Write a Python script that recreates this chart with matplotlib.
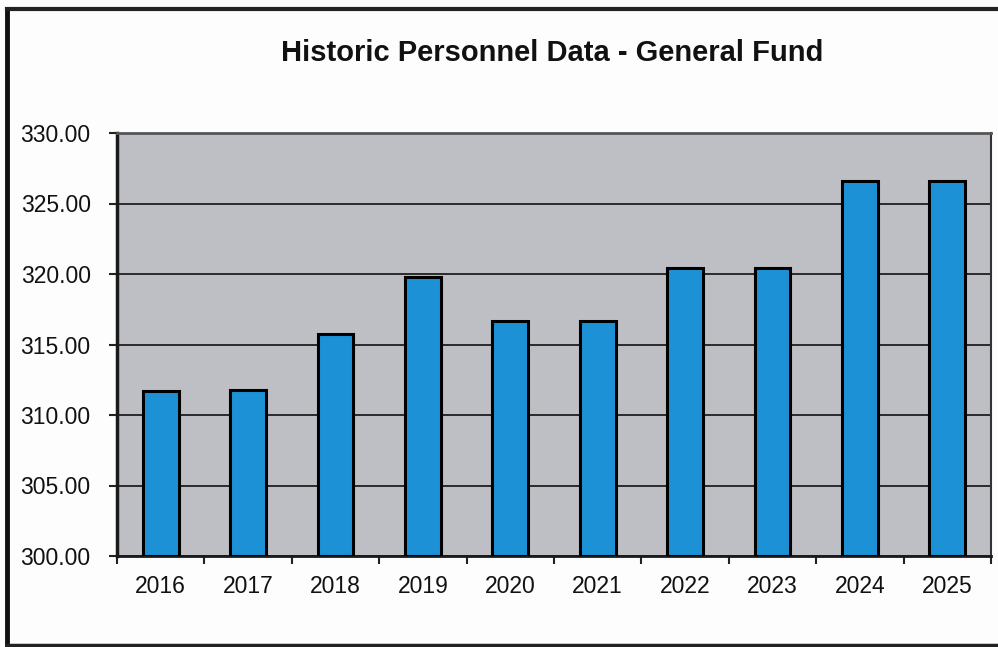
import matplotlib
matplotlib.use("Agg")
import matplotlib.pyplot as plt
from matplotlib.lines import Line2D
import numpy as np

years = ["2016", "2017", "2018", "2019", "2020", "2021", "2022", "2023", "2024", "2025"]
positions = [311.70, 311.77, 315.74, 319.81, 316.67, 316.67, 320.45, 320.45, 326.60, 326.60]
y_ticks = [300, 305, 310, 315, 320, 325, 330]
title = "Historic Personnel Data - General Fund"

plt.rcParams['font.family'] = ['Liberation Sans', 'DejaVu Sans']

fig = plt.figure(figsize=(9.98, 6.47), dpi=100, facecolor="#fdfdfd")
ax = fig.add_axes([117/998, 1 - 556/647, (991-117)/998, (556-133)/647])
ax.set_facecolor("#bebfc4")

x = np.arange(len(years))
ax.bar(x, [v - 300 for v in positions], bottom=300, width=0.41,
       color="#1d91d5", edgecolor="black", linewidth=2.2, zorder=3)

ax.set_xlim(-0.5, len(years) - 0.5)
ax.set_ylim(300, 330)
ax.set_yticks(y_ticks)
ax.set_yticklabels([f"{t:.2f}" for t in y_ticks], fontsize=16.5, color="#111111")
ax.set_xticks(x)
ax.set_xticklabels(years, fontsize=16.5, color="#111111")
ax.set_xticks(np.arange(-0.5, len(years), 1.0), minor=True)

ax.tick_params(axis='x', which='major', length=0, pad=14)
ax.tick_params(axis='x', which='minor', length=6, width=1.5, direction='out', color="#222222")
ax.tick_params(axis='y', which='major', length=6, width=1.5, direction='out', pad=13, color="#222222")

ax.yaxis.grid(True, color="#2a2a2a", linewidth=1.4, zorder=1)
ax.set_axisbelow(True)

for side, lw, col in [("left", 2.5, "#1a1a1a"), ("bottom", 2.0, "#1a1a1a"),
                      ("top", 2.0, "#555555"), ("right", 1.5, "#333333")]:
    ax.spines[side].set_linewidth(lw)
    ax.spines[side].set_color(col)

fig.text(552/998, 1 - 53/647, title, ha="center", va="center",
         fontsize=21, fontweight="bold", color="#111111")

# outer frame
fig.add_artist(Line2D([7/998, 7/998], [1 - 645/647, 1 - 9/647], transform=fig.transFigure,
                      color="#111111", linewidth=3.5))
fig.add_artist(Line2D([7/998, 1.0], [1 - 9/647, 1 - 9/647], transform=fig.transFigure,
                      color="#222222", linewidth=3.0))
fig.add_artist(Line2D([7/998, 1.0], [1 - 645/647, 1 - 645/647], transform=fig.transFigure,
                      color="#222222", linewidth=2.5))

fig.savefig("out.png", dpi=100, facecolor=fig.get_facecolor())
